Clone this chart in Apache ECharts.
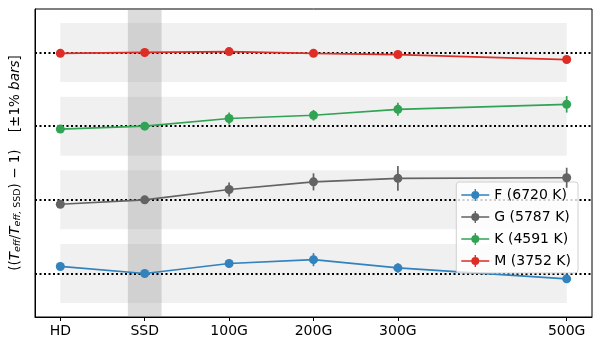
<!DOCTYPE html>
<html>
<head>
<meta charset="utf-8">
<script src="https://cdn.jsdelivr.net/npm/echarts@6/dist/echarts.min.js"></script>
<style>
  html, body { margin: 0; padding: 0; background: #fff; }
  #chart { width: 601px; height: 351px; }
</style>
</head>
<body>
<div id="chart"></div>
<script>
    // x positions of the setups (500G sits two steps after 300G)
    var xPos = [0, 1, 2, 3, 4, 6];
    var xLabels = ['HD', 'SSD', '100G', '200G', '300G', '500G'];

    // series names, offsets and colours
    var names = ['F (6720 K)', 'G (5787 K)', 'K (4591 K)', 'M (3752 K)'];
    var offsets = [0, 2.5, 5, 7.5];
    var colors = ['#3182bd', '#636363', '#31a354', '#de2d26'];

    // relative change in percent, and its error
    var valF = [0.24, 0, 0.34, 0.47, 0.19, -0.18];
    var errF = [0.07, 0.04, 0.1, 0.22, 0.16, 0.07];
    var valG = [-0.15, 0, 0.35, 0.61, 0.73, 0.75];
    var errG = [0.08, 0.05, 0.24, 0.29, 0.42, 0.34];
    var valK = [-0.1, 0, 0.26, 0.37, 0.57, 0.74];
    var errK = [0.06, 0.04, 0.2, 0.18, 0.22, 0.28];
    var valM = [-0.03, 0, 0.03, -0.03, -0.07, -0.24];
    var errM = [0.05, 0.04, 0.06, 0.05, 0.05, 0.06];

    var values = [valF, valG, valK, valM];
    var errors = [errF, errG, errK, errM];

    var font = 'DejaVu Sans';
    var legendIcon = 'path://M0,4.3H28V5.7H0Z M13.3,-1H14.7V11H13.3Z M10,5A4,4 0 1,1 18,5A4,4 0 1,1 10,5Z';

    var myChart = echarts.init(document.getElementById('chart'));

    var series = [];
    names.forEach(function (name, i) {
        var off = offsets[i];
        var pts = xPos.map(function (x, j) { return [x, values[i][j] + off]; });
        var s = {
            name: name,
            type: 'line',
            data: pts,
            symbol: 'circle',
            symbolSize: 9,
            z: 3 + i,
            lineStyle: { color: colors[i], width: 1.7 },
            itemStyle: { color: colors[i] },
            emphasis: { disabled: true },
            markLine: {
                silent: true,
                symbol: 'none',
                label: { show: false },
                lineStyle: { color: '#000', type: [2, 2.5], width: 2 },
                data: [{ yAxis: off }],
                z: 2
            },
            markArea: {
                silent: true,
                itemStyle: { color: 'rgba(128,128,128,0.12)' },
                data: [[{ xAxis: 0, yAxis: off - 1 }, { xAxis: 6, yAxis: off + 1 }]]
            }
        };
        if (i === 0) {
            s.markArea.data.push([
                { xAxis: 0.8, yAxis: -1.475, itemStyle: { color: 'rgba(128,128,128,0.28)' } },
                { xAxis: 1.2, yAxis: 8.975 }
            ]);
        }
        series.push(s);

        // error bars
        series.push({
            name: name + ' err',
            type: 'custom',
            z: 3 + i,
            data: xPos.map(function (x, j) {
                return [x, values[i][j] + off - errors[i][j], values[i][j] + off + errors[i][j]];
            }),
            renderItem: function (params, api) {
                var p1 = api.coord([api.value(0), api.value(1)]);
                var p2 = api.coord([api.value(0), api.value(2)]);
                return {
                    type: 'line',
                    shape: { x1: p1[0], y1: p1[1], x2: p2[0], y2: p2[1] },
                    style: { stroke: colors[i], lineWidth: 1.7 }
                };
            }
        });
    });

    var option = {
        animation: false,
        grid: {
            left: 34, right: 9, top: 9, bottom: 34,
            show: true, borderColor: '#000', borderWidth: 1
        },
        legend: {
            data: names,
            orient: 'vertical',
            right: 23,
            top: 182,
            itemWidth: 28,
            itemHeight: 12,
            itemGap: 8,
            padding: [6, 7, 5, 5],
            icon: legendIcon,
            backgroundColor: 'rgba(255,255,255,0.8)',
            borderColor: '#d0d0d0',
            borderWidth: 1,
            borderRadius: 3,
            textStyle: { fontFamily: font, fontSize: 14, color: '#000' }
        },
        xAxis: {
            type: 'value',
            min: -0.3,
            max: 6.3,
            splitLine: { show: false },
            axisLine: { show: true, onZero: false, lineStyle: { color: '#000' } },
            axisTick: { show: true, length: 4, customValues: xPos, lineStyle: { color: '#000' } },
            axisLabel: {
                customValues: xPos,
                fontFamily: font,
                fontSize: 14,
                color: '#000',
                margin: 7,
                formatter: function (v) {
                    var k = xPos.indexOf(v);
                    return k >= 0 ? xLabels[k] : '';
                }
            }
        },
        yAxis: {
            type: 'value',
            min: -1.475,
            max: 8.975,
            splitLine: { show: false },
            axisLine: { show: true, onZero: false, lineStyle: { color: '#000' } },
            axisTick: { show: false },
            axisLabel: { show: false },
            name: '{n|((}{i|T}{s|eff}{n|/}{i|T}{s|eff, }{u|SSD}{n|) − 1)    [±1% }{i|bars}{n|]}',
            nameLocation: 'middle',
            nameGap: 12,
            nameRotate: 90,
            nameTextStyle: {
                rich: {
                    n: { fontFamily: font, fontSize: 13.5, color: '#000' },
                    i: { fontFamily: font, fontSize: 13.5, fontStyle: 'italic', color: '#000' },
                    s: { fontFamily: font, fontSize: 9.5, fontStyle: 'italic', color: '#000', padding: [6, 0, 0, 0] },
                    u: { fontFamily: font, fontSize: 9.5, color: '#000', padding: [6, 0, 0, 0] }
                }
            }
        },
        series: series
    };

    myChart.setOption(option);
</script>
</body>
</html>
